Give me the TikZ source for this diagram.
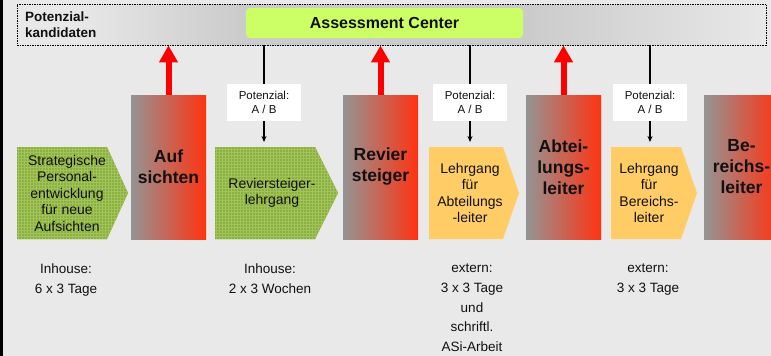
\documentclass[tikz,border=0pt]{standalone}
\usepackage{fontspec}
\setmainfont{Liberation Sans}
\usetikzlibrary{arrows.meta,patterns}
\definecolor{bg}{HTML}{E9E9E9}
\definecolor{grL}{HTML}{949494}
\definecolor{grM}{HTML}{C87472}
\definecolor{grR}{HTML}{FF3311}
\definecolor{bandL}{HTML}{E8E8E8}
\definecolor{bandM}{HTML}{CBCBCB}
\definecolor{greenbase}{HTML}{8AB13D}
\definecolor{greenlight}{HTML}{A2C35B}
\definecolor{orangefill}{HTML}{FFCC66}
\definecolor{assess}{HTML}{CCFF66}
\definecolor{txt}{HTML}{111111}
\pgfdeclarehorizontalshading{bandshade}{100bp}{color(0bp)=(bandL); color(29bp)=(bandL); color(40bp)=(bandM); color(59bp)=(bandM); color(75bp)=(bandL); color(100bp)=(bandL)}
\tikzset{
  redbox/.style={left color=grL, middle color=grM, right color=grR, minimum width=75pt, minimum height=144pt, inner sep=0pt, align=center, text=txt, font=\fontsize{17.5}{21}\selectfont\bfseries},
  whitebox/.style={fill=white, minimum width=74pt, minimum height=37pt, inner sep=0pt, align=center, text=txt, font=\fontsize{11.5}{14}\selectfont},
  pentatext/.style={align=center, inner sep=0pt, text=txt, font=\fontsize{14}{16.5}\selectfont},
  notetext/.style={align=center, inner sep=0pt, anchor=north, text=txt, font=\fontsize{13.5}{19.6}\selectfont},
  uparrow/.style={red, line width=6pt, -{Triangle[width=18pt,length=17pt]}},
  downarrow/.style={black, line width=1.2pt, -{Stealth[width=5pt,length=6pt]}},
  stem/.style={black, line width=1.5pt},
  greenpenta/.style={fill=greenbase},
  greenpat/.style={pattern=grid, pattern color=greenlight},
  orangepenta/.style={fill=orangefill},
}
\begin{document}
\begin{tikzpicture}[x=1pt,y=-1pt]
\useasboundingbox (0,0) rectangle (771,356);
\clip (0,0) rectangle (771,356);
\fill[bg] (0,0) rectangle (771,356);
\draw[line width=2.5pt] (1.5,0) -- (1.5,356);

% top band
\node[draw, dash pattern=on 1.5pt off 1pt, line width=0.8pt, shade, shading=bandshade, minimum width=749pt, minimum height=41pt, inner sep=0pt] (band) at (391.5,24.5) {};
\node[anchor=west, align=left, inner sep=0pt, text=txt, font=\fontsize{13.5}{16}\selectfont\bfseries] (kand) at (25,25) {Potenzial-\\kandidaten};
\node[fill=assess, rounded corners=4pt, minimum width=277pt, minimum height=30pt, inner sep=0pt, text=txt, font=\fontsize{16}{19}\selectfont\bfseries] (ac) at (384.5,23) {Assessment Center};

% gray-red boxes
\node[redbox] (b1) at (168.5,167) {Auf\\sichten};
\node[redbox] (b2) at (380.5,167) {Revier\\steiger};
\node[redbox] (b3) at (563.5,167) {Abtei-\\lungs-\\leiter};
\node[redbox] (b4) at (741.5,167) {Be-\\reichs-\\leiter};

% red arrows up
\draw[uparrow] (b1.north) -- (b1.north |- band.south);
\draw[uparrow] (b2.north) -- (b2.north |- band.south);
\draw[uparrow] (b3.north) -- (b3.north |- band.south);

% pentagons
\fill[greenpenta] (17,147) -- (107,147) -- (128,193) -- (107,239) -- (17,239) -- cycle;
\fill[greenpat] (17,147) -- (107,147) -- (128,193) -- (107,239) -- (17,239) -- cycle;
\fill[greenpenta] (215,147) -- (315,147) -- (338,193) -- (315,239) -- (215,239) -- cycle;
\fill[greenpat] (215,147) -- (315,147) -- (338,193) -- (315,239) -- (215,239) -- cycle;
\fill[orangepenta] (429,147) -- (503,147) -- (519,193) -- (503,239) -- (429,239) -- cycle;
\fill[orangepenta] (611,147) -- (681,147) -- (697,193) -- (681,239) -- (611,239) -- cycle;
\node[pentatext] (p1) at (67,193) {Strategische\\Personal-\\entwicklung\\für neue\\Aufsichten};
\node[pentatext] (p2) at (272,193) {Reviersteiger-\\lehrgang};
\node[pentatext] (p3) at (470,193) {Lehrgang\\für\\Abteilungs\\-leiter};
\node[pentatext] (p4) at (649,193) {Lehrgang\\für\\Bereichs-\\leiter};

% white boxes
\node[whitebox] (w1) at (264,102.5) {Potenzial:\\A / B};
\node[whitebox] (w2) at (470,102.5) {Potenzial:\\A / B};
\node[whitebox] (w3) at (650,102.5) {Potenzial:\\A / B};
\coordinate (t2) at (264,142);
\coordinate (t3) at (470,142);
\coordinate (t4) at (650,142);
\draw[stem] (w1.north |- band.south) -- (w1.north);
\draw[stem] (w2.north |- band.south) -- (w2.north);
\draw[stem] (w3.north |- band.south) -- (w3.north);
\draw[downarrow] (w1.south) -- (t2);
\draw[downarrow] (w2.south) -- (t3);
\draw[downarrow] (w3.south) -- (t4);

% bottom notes
\node[notetext] (n1) at (66,264) {Inhouse:\\6 x 3 Tage};
\node[notetext] (n2) at (270,264) {Inhouse:\\2 x 3 Wochen};
\node[notetext] (n3) at (472,264) {extern:\\3 x 3 Tage\\und\\schriftl.\\ASi-Arbeit};
\node[notetext] (n4) at (648,264) {extern:\\3 x 3 Tage};
\end{tikzpicture}
\end{document}
